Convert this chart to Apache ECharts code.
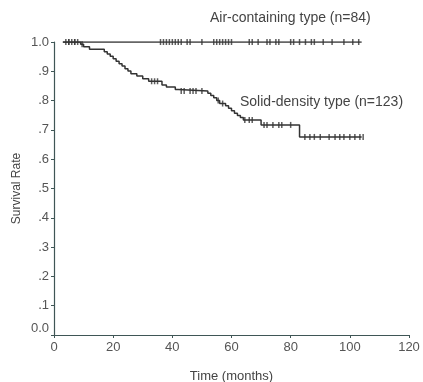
<!DOCTYPE html>
<html>
<head>
<meta charset="utf-8">
<script src="https://cdn.jsdelivr.net/npm/echarts@6/dist/echarts.min.js"></script>
<style>
html,body{margin:0;padding:0;background:#fff;}
#c{width:423px;height:382px;}
</style>
</head>
<body>
<div id="c"></div>
<script>
// ---- data ----
var xTicks = [0, 20, 40, 60, 80, 100, 120];
var yTicks = [0, 0.1, 0.2, 0.3, 0.4, 0.5, 0.6, 0.7, 0.8, 0.9, 1.0];

var airTimes = [3, 104];
var airSurv  = [1.0, 1.0];
var airCensor = [4, 5, 6, 7, 8, 36, 37, 38, 39, 40, 41, 42, 43, 45, 46, 50, 54, 55, 56, 57, 58, 59, 60, 66, 67, 69, 72, 73, 75, 76, 80, 81, 83, 85, 87, 88, 91, 94, 98, 101, 103];

var solidTimes = [3, 9, 10, 12, 17, 18, 19, 20, 21, 22, 23, 24, 25, 26, 28, 30, 32, 36.5, 38, 41, 42, 52, 53, 54, 55, 56, 58, 59, 60, 61, 62, 63, 64, 70, 83, 104];
var solidSurv  = [1.0, 0.992, 0.984, 0.975, 0.967, 0.959, 0.951, 0.943, 0.934, 0.926, 0.918, 0.909, 0.901, 0.892, 0.884, 0.875, 0.866, 0.853, 0.846, 0.838, 0.833, 0.825, 0.817, 0.81, 0.80, 0.79, 0.782, 0.774, 0.765, 0.757, 0.749, 0.742, 0.734, 0.717, 0.676, 0.676];
var solidCensor = [5, 7, 9.5, 33, 34, 35, 43, 44, 46, 47, 48, 50, 55.5, 57, 64.5, 66, 67, 71, 72, 74, 76, 77, 80, 84.8, 86.5, 88, 90, 93, 95, 96.6, 98, 100, 101.7, 103.4, 104.5];

var airLabel = 'Air-containing type (n=84)';
var solidLabel = 'Solid-density type (n=123)';

// ---- helpers ----
function stepValueAt(times, surv, t) {
  var v = surv[0];
  for (var i = 0; i < times.length; i++) { if (times[i] <= t) v = surv[i]; }
  return v;
}
function pairs(times, surv) { return times.map(function (t, i) { return [t, surv[i]]; }); }
function censorPts(times, surv, cens) { return cens.map(function (t) { return [t, stepValueAt(times, surv, t)]; }); }

var lineCol = '#333';
var axisCol = '#3f5656';
var txtCol = '#444';
var font = 'Liberation Sans';

var chart = echarts.init(document.getElementById('c'), null, {renderer: 'canvas'});
chart.setOption({
  animation: false,
  backgroundColor: '#fff',
  grid: {left: 54, right: 14, top: 42, bottom: 47, containLabel: false, outerBoundsMode: 'none'},
  xAxis: {
    type: 'value', min: 0, max: 120, interval: 20,
    name: 'Time (months)', nameLocation: 'middle', nameGap: 35, nameMoveOverlap: false,
    nameTextStyle: {color: txtCol, fontFamily: font, fontSize: 13},
    axisLine: {lineStyle: {color: axisCol, width: 1.2}},
    axisTick: {show: true, length: 3, lineStyle: {color: axisCol}},
    axisLabel: {color: '#555', fontFamily: font, fontSize: 13, margin: 6},
    splitLine: {show: false}
  },
  yAxis: {
    type: 'value', min: 0, max: 1, interval: 0.1,
    name: 'Survival Rate', nameLocation: 'middle', nameGap: 31, nameMoveOverlap: false,
    nameTextStyle: {color: txtCol, fontFamily: font, fontSize: 12},
    axisLine: {show: true, lineStyle: {color: axisCol, width: 1.2}},
    axisTick: {show: true, length: 3, lineStyle: {color: axisCol}},
    axisLabel: {
      color: '#555', fontFamily: font, fontSize: 13, margin: 5,
      formatter: function (v) {
        var k = Math.round(v * 10);
        if (k === 0) return '{z|0.0}';
        if (k === 10) return '1.0';
        return '.' + k;
      },
      rich: {z: {color: '#555', fontFamily: font, fontSize: 13, padding: [0, 0, 14, 0]}}
    },
    splitLine: {show: false}
  },
  graphic: [
    {type: 'text', left: 210, top: 11, style: {text: airLabel, fill: txtCol, font: '14px "Liberation Sans"'}},
    {type: 'text', left: 240, top: 95, style: {text: solidLabel, fill: txtCol, font: '14px "Liberation Sans"'}}
  ],
  series: [
    {type: 'line', step: 'end', data: pairs(airTimes, airSurv), showSymbol: false,
     lineStyle: {color: lineCol, width: 1.5}, z: 3},
    {type: 'line', step: 'end', data: pairs(solidTimes, solidSurv), showSymbol: false,
     lineStyle: {color: lineCol, width: 1.5}, z: 3},
    {type: 'scatter', data: censorPts(airTimes, airSurv, airCensor), symbol: 'rect', symbolSize: [1.5, 6],
     itemStyle: {color: lineCol}, z: 4},
    {type: 'scatter', data: censorPts(solidTimes, solidSurv, solidCensor), symbol: 'rect', symbolSize: [1.5, 6],
     itemStyle: {color: lineCol}, z: 4}
  ]
});
</script>
</body>
</html>
